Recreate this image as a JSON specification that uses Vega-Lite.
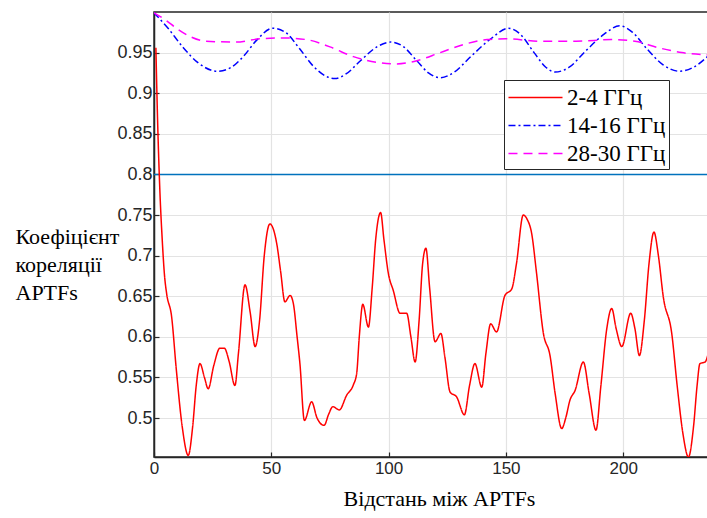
{
  "$schema": "https://vega.github.io/schema/vega-lite/v6.json",
  "autosize": {"type": "none"},
  "padding": {"left": 154, "top": 12, "right": 0, "bottom": 61},
  "width": 556,
  "height": 445,
  "background": "white",
  "config": {
    "view": {"stroke": "#262626", "strokeWidth": 1.5},
    "axis": {
      "domainColor": "#262626", "domainWidth": 1.5,
      "tickColor": "#262626", "tickSize": -5, "tickWidth": 1.2,
      "gridColor": "#e3e3e3", "gridWidth": 1.2,
      "labelFont": "Liberation Sans", "labelFontSize": 17, "labelColor": "#262626",
      "titleFont": "Liberation Serif", "titleFontSize": 22, "titleFontWeight": "normal", "titleColor": "#000000"
    }
  },
  "datasets": {
    "curves": [
      {"x": 0.8, "y": 0.956, "s": "2-4 ГГц"}, {"x": 1.5, "y": 0.87, "s": "2-4 ГГц"}, {"x": 2.5, "y": 0.78, "s": "2-4 ГГц"}, {"x": 3.5, "y": 0.72, "s": "2-4 ГГц"}, {"x": 4.5, "y": 0.675, "s": "2-4 ГГц"}, {"x": 5.4, "y": 0.653, "s": "2-4 ГГц"}, {"x": 7.5, "y": 0.625, "s": "2-4 ГГц"}, {"x": 9.5, "y": 0.56, "s": "2-4 ГГц"}, {"x": 12, "y": 0.49, "s": "2-4 ГГц"}, {"x": 14.6, "y": 0.454, "s": "2-4 ГГц"}, {"x": 16.5, "y": 0.49, "s": "2-4 ГГц"}, {"x": 18, "y": 0.54, "s": "2-4 ГГц"}, {"x": 19.6, "y": 0.567, "s": "2-4 ГГц"}, {"x": 21.5, "y": 0.55, "s": "2-4 ГГц"}, {"x": 23.1, "y": 0.536, "s": "2-4 ГГц"}, {"x": 25.5, "y": 0.565, "s": "2-4 ГГц"}, {"x": 28.1, "y": 0.586, "s": "2-4 ГГц"}, {"x": 30, "y": 0.586, "s": "2-4 ГГц"}, {"x": 32, "y": 0.57, "s": "2-4 ГГц"}, {"x": 34.5, "y": 0.54, "s": "2-4 ГГц"}, {"x": 36, "y": 0.58, "s": "2-4 ГГц"}, {"x": 38.8, "y": 0.664, "s": "2-4 ГГц"}, {"x": 41, "y": 0.63, "s": "2-4 ГГц"}, {"x": 43.1, "y": 0.588, "s": "2-4 ГГц"}, {"x": 45, "y": 0.62, "s": "2-4 ГГц"}, {"x": 47, "y": 0.70, "s": "2-4 ГГц"}, {"x": 49.4, "y": 0.739, "s": "2-4 ГГц"}, {"x": 52.3, "y": 0.715, "s": "2-4 ГГц"}, {"x": 54, "y": 0.68, "s": "2-4 ГГц"}, {"x": 55.8, "y": 0.643, "s": "2-4 ГГц"}, {"x": 58, "y": 0.651, "s": "2-4 ГГц"}, {"x": 59.4, "y": 0.641, "s": "2-4 ГГц"}, {"x": 61, "y": 0.60, "s": "2-4 ГГц"}, {"x": 62.2, "y": 0.567, "s": "2-4 ГГц"}, {"x": 64.1, "y": 0.497, "s": "2-4 ГГц"}, {"x": 67.2, "y": 0.52, "s": "2-4 ГГц"}, {"x": 69.5, "y": 0.50, "s": "2-4 ГГц"}, {"x": 72.5, "y": 0.491, "s": "2-4 ГГц"}, {"x": 74.5, "y": 0.505, "s": "2-4 ГГц"}, {"x": 76.2, "y": 0.514, "s": "2-4 ГГц"}, {"x": 79, "y": 0.51, "s": "2-4 ГГц"}, {"x": 82.1, "y": 0.528, "s": "2-4 ГГц"}, {"x": 85, "y": 0.541, "s": "2-4 ГГц"}, {"x": 86.4, "y": 0.555, "s": "2-4 ГГц"}, {"x": 87.5, "y": 0.60, "s": "2-4 ГГц"}, {"x": 89, "y": 0.64, "s": "2-4 ГГц"}, {"x": 91.4, "y": 0.612, "s": "2-4 ГГц"}, {"x": 93, "y": 0.66, "s": "2-4 ГГц"}, {"x": 94.5, "y": 0.72, "s": "2-4 ГГц"}, {"x": 96.6, "y": 0.753, "s": "2-4 ГГц"}, {"x": 98, "y": 0.72, "s": "2-4 ГГц"}, {"x": 99.9, "y": 0.678, "s": "2-4 ГГц"}, {"x": 102, "y": 0.657, "s": "2-4 ГГц"}, {"x": 104.9, "y": 0.629, "s": "2-4 ГГц"}, {"x": 107.7, "y": 0.629, "s": "2-4 ГГц"}, {"x": 109.5, "y": 0.60, "s": "2-4 ГГц"}, {"x": 111.3, "y": 0.569, "s": "2-4 ГГц"}, {"x": 113, "y": 0.62, "s": "2-4 ГГц"}, {"x": 114.5, "y": 0.69, "s": "2-4 ГГц"}, {"x": 115.9, "y": 0.709, "s": "2-4 ГГц"}, {"x": 117.5, "y": 0.66, "s": "2-4 ГГц"}, {"x": 119.8, "y": 0.594, "s": "2-4 ГГц"}, {"x": 122.3, "y": 0.604, "s": "2-4 ГГц"}, {"x": 124, "y": 0.575, "s": "2-4 ГГц"}, {"x": 126.2, "y": 0.532, "s": "2-4 ГГц"}, {"x": 129, "y": 0.526, "s": "2-4 ГГц"}, {"x": 132.3, "y": 0.504, "s": "2-4 ГГц"}, {"x": 134.5, "y": 0.54, "s": "2-4 ГГц"}, {"x": 136.8, "y": 0.567, "s": "2-4 ГГц"}, {"x": 139.7, "y": 0.538, "s": "2-4 ГГц"}, {"x": 141.5, "y": 0.58, "s": "2-4 ГГц"}, {"x": 143.5, "y": 0.616, "s": "2-4 ГГц"}, {"x": 146, "y": 0.606, "s": "2-4 ГГц"}, {"x": 149.6, "y": 0.651, "s": "2-4 ГГц"}, {"x": 152.5, "y": 0.659, "s": "2-4 ГГц"}, {"x": 154.5, "y": 0.69, "s": "2-4 ГГц"}, {"x": 157.4, "y": 0.75, "s": "2-4 ГГц"}, {"x": 159, "y": 0.745, "s": "2-4 ГГц"}, {"x": 161, "y": 0.727, "s": "2-4 ГГц"}, {"x": 163, "y": 0.68, "s": "2-4 ГГц"}, {"x": 166, "y": 0.604, "s": "2-4 ГГц"}, {"x": 168.8, "y": 0.577, "s": "2-4 ГГц"}, {"x": 171, "y": 0.53, "s": "2-4 ГГц"}, {"x": 173.8, "y": 0.487, "s": "2-4 ГГц"}, {"x": 175.5, "y": 0.50, "s": "2-4 ГГц"}, {"x": 177.3, "y": 0.522, "s": "2-4 ГГц"}, {"x": 179.5, "y": 0.534, "s": "2-4 ГГц"}, {"x": 183, "y": 0.569, "s": "2-4 ГГц"}, {"x": 185.5, "y": 0.53, "s": "2-4 ГГц"}, {"x": 188.4, "y": 0.485, "s": "2-4 ГГц"}, {"x": 190.5, "y": 0.54, "s": "2-4 ГГц"}, {"x": 193, "y": 0.61, "s": "2-4 ГГц"}, {"x": 195.1, "y": 0.635, "s": "2-4 ГГц"}, {"x": 197, "y": 0.61, "s": "2-4 ГГц"}, {"x": 199.4, "y": 0.588, "s": "2-4 ГГц"}, {"x": 203.2, "y": 0.629, "s": "2-4 ГГц"}, {"x": 205, "y": 0.61, "s": "2-4 ГГц"}, {"x": 206.9, "y": 0.577, "s": "2-4 ГГц"}, {"x": 209, "y": 0.62, "s": "2-4 ГГц"}, {"x": 211, "y": 0.69, "s": "2-4 ГГц"}, {"x": 213.1, "y": 0.729, "s": "2-4 ГГц"}, {"x": 215, "y": 0.70, "s": "2-4 ГГц"}, {"x": 217.1, "y": 0.649, "s": "2-4 ГГц"}, {"x": 220.7, "y": 0.604, "s": "2-4 ГГц"}, {"x": 223, "y": 0.54, "s": "2-4 ГГц"}, {"x": 225.5, "y": 0.48, "s": "2-4 ГГц"}, {"x": 227.8, "y": 0.452, "s": "2-4 ГГц"}, {"x": 230, "y": 0.49, "s": "2-4 ГГц"}, {"x": 231.5, "y": 0.54, "s": "2-4 ГГц"}, {"x": 232.7, "y": 0.567, "s": "2-4 ГГц"}, {"x": 234.9, "y": 0.569, "s": "2-4 ГГц"}, {"x": 237, "y": 0.59, "s": "2-4 ГГц"},

      {"x": 0, "y": 0.999, "s": "14-16 ГГц"}, {"x": 6, "y": 0.98, "s": "14-16 ГГц"}, {"x": 12.5, "y": 0.956, "s": "14-16 ГГц"}, {"x": 19, "y": 0.937, "s": "14-16 ГГц"}, {"x": 27, "y": 0.927, "s": "14-16 ГГц"}, {"x": 33, "y": 0.932, "s": "14-16 ГГц"}, {"x": 38, "y": 0.945, "s": "14-16 ГГц"}, {"x": 44, "y": 0.966, "s": "14-16 ГГц"}, {"x": 50.5, "y": 0.98, "s": "14-16 ГГц"}, {"x": 56, "y": 0.975, "s": "14-16 ГГц"}, {"x": 62, "y": 0.955, "s": "14-16 ГГц"}, {"x": 68, "y": 0.933, "s": "14-16 ГГц"}, {"x": 74, "y": 0.92, "s": "14-16 ГГц"}, {"x": 77, "y": 0.918, "s": "14-16 ГГц"}, {"x": 82, "y": 0.924, "s": "14-16 ГГц"}, {"x": 88, "y": 0.94, "s": "14-16 ГГц"}, {"x": 95, "y": 0.957, "s": "14-16 ГГц"}, {"x": 101, "y": 0.963, "s": "14-16 ГГц"}, {"x": 106, "y": 0.958, "s": "14-16 ГГц"}, {"x": 112, "y": 0.94, "s": "14-16 ГГц"}, {"x": 117, "y": 0.925, "s": "14-16 ГГц"}, {"x": 122, "y": 0.919, "s": "14-16 ГГц"}, {"x": 128, "y": 0.926, "s": "14-16 ГГц"}, {"x": 135, "y": 0.945, "s": "14-16 ГГц"}, {"x": 144, "y": 0.968, "s": "14-16 ГГц"}, {"x": 151, "y": 0.98, "s": "14-16 ГГц"}, {"x": 156, "y": 0.973, "s": "14-16 ГГц"}, {"x": 162, "y": 0.95, "s": "14-16 ГГц"}, {"x": 167, "y": 0.932, "s": "14-16 ГГц"}, {"x": 171, "y": 0.926, "s": "14-16 ГГц"}, {"x": 177, "y": 0.932, "s": "14-16 ГГц"}, {"x": 184, "y": 0.952, "s": "14-16 ГГц"}, {"x": 192, "y": 0.973, "s": "14-16 ГГц"}, {"x": 198.5, "y": 0.983, "s": "14-16 ГГц"}, {"x": 204, "y": 0.975, "s": "14-16 ГГц"}, {"x": 210, "y": 0.955, "s": "14-16 ГГц"}, {"x": 217, "y": 0.935, "s": "14-16 ГГц"}, {"x": 224, "y": 0.927, "s": "14-16 ГГц"}, {"x": 230, "y": 0.932, "s": "14-16 ГГц"}, {"x": 237, "y": 0.948, "s": "14-16 ГГц"},

      {"x": 0, "y": 0.999, "s": "28-30 ГГц"}, {"x": 5, "y": 0.99, "s": "28-30 ГГц"}, {"x": 10, "y": 0.979, "s": "28-30 ГГц"}, {"x": 16, "y": 0.969, "s": "28-30 ГГц"}, {"x": 22, "y": 0.964, "s": "28-30 ГГц"}, {"x": 35, "y": 0.963, "s": "28-30 ГГц"}, {"x": 45, "y": 0.967, "s": "28-30 ГГц"}, {"x": 55, "y": 0.968, "s": "28-30 ГГц"}, {"x": 65, "y": 0.966, "s": "28-30 ГГц"}, {"x": 75, "y": 0.957, "s": "28-30 ГГц"}, {"x": 85, "y": 0.945, "s": "28-30 ГГц"}, {"x": 95, "y": 0.938, "s": "28-30 ГГц"}, {"x": 103, "y": 0.936, "s": "28-30 ГГц"}, {"x": 112, "y": 0.94, "s": "28-30 ГГц"}, {"x": 122, "y": 0.95, "s": "28-30 ГГц"}, {"x": 132, "y": 0.96, "s": "28-30 ГГц"}, {"x": 142, "y": 0.966, "s": "28-30 ГГц"}, {"x": 150, "y": 0.967, "s": "28-30 ГГц"}, {"x": 165, "y": 0.964, "s": "28-30 ГГц"}, {"x": 180, "y": 0.964, "s": "28-30 ГГц"}, {"x": 195, "y": 0.966, "s": "28-30 ГГц"}, {"x": 205, "y": 0.964, "s": "28-30 ГГц"}, {"x": 215, "y": 0.956, "s": "28-30 ГГц"}, {"x": 225, "y": 0.95, "s": "28-30 ГГц"}, {"x": 237, "y": 0.947, "s": "28-30 ГГц"}
    ],
    "ref": [{"y": 0.8}]
  },
  "layer": [
    {
      "data": {"name": "ref"},
      "mark": {"type": "rule", "color": "#0072BD", "strokeWidth": 1.5},
      "encoding": {"y": {"field": "y", "type": "quantitative", "scale": {"domain": [0.452, 1.0]}}}
    },
    {
      "data": {"name": "curves"},
      "mark": {"type": "line", "interpolate": "monotone", "strokeWidth": 1.5, "clip": true},
      "encoding": {
        "x": {
          "field": "x", "type": "quantitative",
          "scale": {"domain": [0, 237], "nice": false, "zero": false},
          "axis": {"values": [0, 50, 100, 150, 200], "title": "Відстань між APTFs", "titleX": 285, "titleY": 48, "titleBaseline": "alphabetic", "labelPadding": 8, "labelFlush": false}
        },
        "y": {
          "field": "y", "type": "quantitative",
          "scale": {"domain": [0.452, 1.0], "nice": false, "zero": false},
          "axis": {
            "values": [0.5, 0.55, 0.6, 0.65, 0.7, 0.75, 0.8, 0.85, 0.9, 0.95],
            "format": ".2~f", "labelFontSize": 18,
            "title": ["Коефіцієнт", "кореляції", "APTFs"],
            "titleAngle": 0, "titleAlign": "left", "titleBaseline": "alphabetic",
            "titleX": -139, "titleY": 231, "titleLineHeight": 28,
            "labelPadding": 7, "labelFlush": false
          }
        },
        "color": {
          "field": "s", "type": "nominal",
          "scale": {"domain": ["2-4 ГГц", "14-16 ГГц", "28-30 ГГц"], "range": ["#ff0000", "#0000ff", "#ff00ff"]},
          "legend": {
            "title": null, "orient": "none", "legendX": 350, "legendY": 68,
            "symbolType": "M-2,0L2,0", "symbolSize": 730, "symbolStrokeWidth": 1.5, "symbolOffset": 14,
            "labelFont": "Liberation Serif", "labelFontSize": 23, "labelColor": "#000000",
            "strokeColor": "#262626", "fillColor": "white", "padding": 3, "rowPadding": 1, "labelOffset": 17
          }
        },
        "strokeDash": {
          "field": "s", "type": "nominal",
          "scale": {"domain": ["2-4 ГГц", "14-16 ГГц", "28-30 ГГц"], "range": [[1, 0], [7, 3, 2, 3], [9, 6]]},
          "legend": null
        }
      }
    }
  ]
}
